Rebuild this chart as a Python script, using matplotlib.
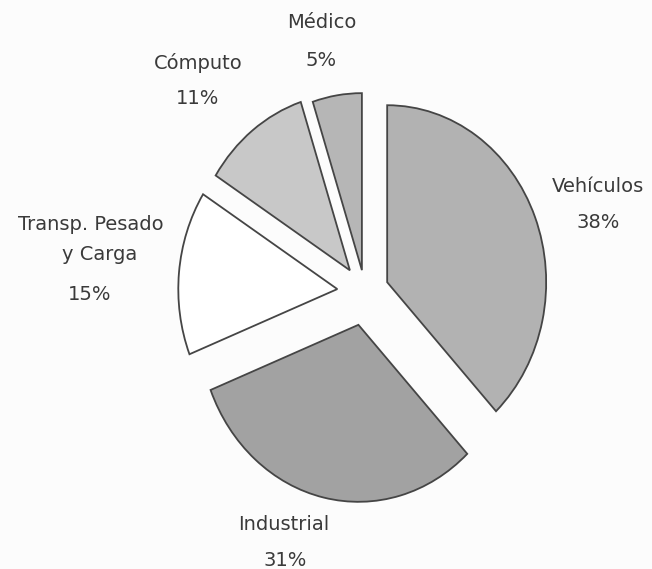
import matplotlib
matplotlib.use("Agg")
import matplotlib.pyplot as plt

# data
sectors = ["Vehículos", "Industrial", "Transp. Pesado y Carga", "Cómputo", "Médico"]
shares = [38, 31, 15, 11, 5]
explode = [0.15, 0.19, 0.175, 0.155, 0.125]
colors = ["#b2b2b2", "#a2a2a2", "#ffffff", "#c8c8c8", "#b6b6b6"]

# label lines and their pixel centres (x, y from top)
label_lines = [
    ("Médico", 322, 23), ("5%", 321, 60),
    ("Cómputo", 198, 63), ("11%", 198, 98),
    ("Transp. Pesado", 91, 224), ("y Carga", 100, 255), ("15%", 90, 294),
    ("Vehículos", 598, 186), ("38%", 598, 222),
    ("Industrial", 284, 524), ("31%", 285, 560),
]

W, H = 652, 569
cx, cy = 365, 292      # pie centre in pixels
rx, ry = 159, 177      # scanned pie is slightly taller than wide

fig = plt.figure(figsize=(W / 100, H / 100), dpi=100)
fig.patch.set_facecolor("#fcfcfc")
ax = fig.add_axes([0, 0, 1, 1])
ax.set_facecolor("#fcfcfc")

ax.pie(
    shares,
    explode=explode,
    colors=colors,
    startangle=90,
    counterclock=False,
    wedgeprops={"edgecolor": "#454545", "linewidth": 1.3},
)
ax.set_aspect("auto")
ax.set_xlim(-cx / rx, (W - cx) / rx)
ax.set_ylim(-(H - cy) / ry, cy / ry)
ax.axis("off")

for text, x, y in label_lines:
    fig.text(x / W, 1 - y / H, text, ha="center", va="center",
             fontsize=14, color="#3a3a3a", family="DejaVu Sans")

fig.savefig("out.png", dpi=100, facecolor=fig.get_facecolor())
